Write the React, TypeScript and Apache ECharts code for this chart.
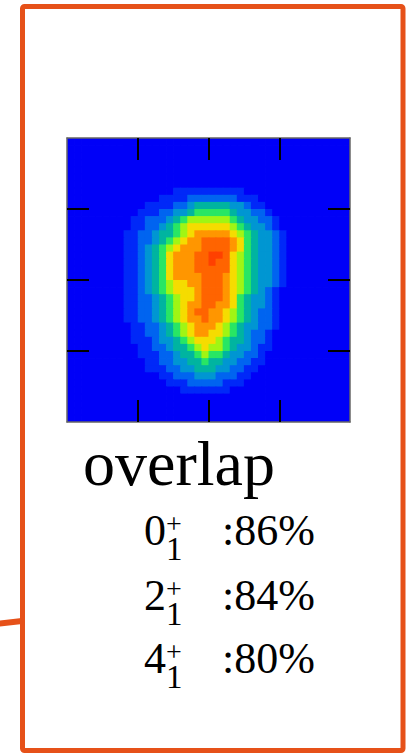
import React, { useEffect, useRef } from "react";
import * as echarts from "echarts";

// Intensity levels (0-a hex) of the 40x40 density map, top row first
const DENSITY_ROWS: string[] = [
  "0",
  "0",
  "0",
  "0",
  "0",
  "0",
  "0",
  "000000000000000" + "1111111111",
  "0000000000000" + "11112222222111",
  "00000000000" + "11112234444433211",
  "0000000000" + "1112233455555433221",
  "000000000" + "112223456666665433221",
  "000000000" + "112234567777776543321",
  "00000000" + "11223445678888876543321",
  "00000000" + "11223456788999987543321",
  "00000000" + "11234567888999987543321",
  "00000000" + "112345788899aa976543321",
  "00000000" + "112345788899a9976543321",
  "00000000" + "11234578889999976543321",
  "00000000" + "11234578888999876543321",
  "00000000" + "11234567788999876543321",
  "00000000" + "1123456777899987654321",
  "00000000" + "1122345677899987543321",
  "00000000" + "1122345678899887543321",
  "00000000" + "1122345678998876543221",
  "00000000" + "1122345678898876543221",
  "000000000" + "112234567888765433221",
  "000000000" + "11223456788776543221",
  "000000000" + "11123345677765443221",
  "0000000000" + "1122344567665433211",
  "0000000000" + "111223445655433221",
  "00000000000" + "11223344544332211",
  "00000000000" + "1112233444332211",
  "0000000000000" + "1122233322211",
  "00000000000000" + "11122222111",
  "0000000000000000" + "1111111",
  "0",
  "0",
  "0",
  "0",
];

const LEVEL_COLORS: string[] = [
  "#0000F8",
  "#0028F8",
  "#0064F0",
  "#0096D2",
  "#00B4A0",
  "#28E664",
  "#A0F514",
  "#F5DC00",
  "#FF9600",
  "#FF6400",
  "#FF4000",
];

const TITLE = "overlap";
const STATES: string[] = ["0", "2", "4"];
const OVERLAPS: string[] = ["86%", "84%", "80%"];
const TICK_VALUES: number[] = [1, 2, 3];

const GRID_N = 40;
const ORANGE = "#E65119";
const SERIF = "'Liberation Serif', 'Times New Roman', serif";

export default function App() {
  const ref = useRef<HTMLDivElement>(null);

  useEffect(() => {
    if (!ref.current) return;
    const chart = echarts.init(ref.current, null, { renderer: "svg" });

    const cats = Array.from({ length: GRID_N }, (_, i) => String(i));
    const data: number[][] = [];
    DENSITY_ROWS.forEach((row, r) => {
      const s = row.padEnd(GRID_N, "0");
      for (let c = 0; c < GRID_N; c++) data.push([c, r, parseInt(s[c], 16)]);
    });

    const gridRect = { left: 67, top: 138, width: 283, height: 284 };

    const tickAxis = (pos: string, gridIndex: number) => ({
      type: "value" as const,
      gridIndex,
      position: pos,
      min: 0,
      max: 4,
      interval: 1,
      z: 10,
      axisLine: { show: true, onZero: false, lineStyle: { color: "#666", width: 1.5 } },
      axisTick: {
        show: true,
        inside: true,
        length: 22,
        customValues: TICK_VALUES,
        lineStyle: { color: "#000", width: 2 },
      },
      axisLabel: { show: false },
      splitLine: { show: false },
    });

    const baselines = [545, 610, 673];
    const texts: any[] = [];
    STATES.forEach((st, i) => {
      const b = baselines[i];
      texts.push(
        {
          type: "text",
          style: { text: st, x: 144, y: b - 15, fill: "#000", font: `44px ${SERIF}`, verticalAlign: "middle" },
        },
        {
          type: "text",
          style: {
            text: "{p|+}\n{s|1}",
            x: 166,
            y: b - 7.5,
            verticalAlign: "middle",
            rich: {
              p: { fontFamily: SERIF, fontSize: 28, lineHeight: 22, fill: "#000" },
              s: { fontFamily: SERIF, fontSize: 33, lineHeight: 28, fill: "#000" },
            },
          },
        },
        {
          type: "text",
          style: { text: ":" + OVERLAPS[i], x: 222, y: b - 15, fill: "#000", font: `44px ${SERIF}`, verticalAlign: "middle" },
        }
      );
    });

    chart.setOption({
      animation: false,
      grid: [
        { ...gridRect, show: false },
        { ...gridRect, show: false },
      ],
      xAxis: [
        { type: "category", gridIndex: 0, data: cats, show: false },
        tickAxis("bottom", 1),
        tickAxis("top", 1),
      ],
      yAxis: [
        { type: "category", gridIndex: 0, data: cats, inverse: true, show: false },
        tickAxis("left", 1),
        tickAxis("right", 1),
      ],
      visualMap: {
        show: false,
        type: "continuous",
        min: 0,
        max: 10,
        dimension: 2,
        seriesIndex: 0,
        inRange: { color: LEVEL_COLORS },
      },
      series: [
        {
          type: "custom",
          xAxisIndex: 0,
          yAxisIndex: 0,
          clip: true,
          encode: { x: 0, y: 1 },
          data,
          renderItem: (params: any, api: any) => {
            const c = api.coord([api.value(0), api.value(1)]);
            const sz = api.size([1, 1]);
            const w = Math.abs(sz[0]);
            const h = Math.abs(sz[1]);
            return {
              type: "rect",
              shape: { x: c[0] - w / 2, y: c[1] - h / 2, width: w + 0.8, height: h + 0.8 },
              style: { fill: api.visual("color") },
            };
          },
        },
      ],
      graphic: [
        {
          type: "rect",
          z: 100,
          shape: { x: 22.5, y: 6.5, width: 380.5, height: 744, r: 2 },
          style: { fill: "none", stroke: ORANGE, lineWidth: 5 },
        },
        {
          type: "line",
          z: 100,
          shape: { x1: -4, y1: 624, x2: 22, y2: 621 },
          style: { stroke: ORANGE, lineWidth: 6 },
        },
        {
          type: "text",
          style: { text: TITLE, x: 83, y: 463, fill: "#000", font: `64px ${SERIF}`, verticalAlign: "middle" },
        },
        ...texts,
      ],
    });

    return () => chart.dispose();
  }, []);

  return (
    <div
      ref={ref}
      style={{ position: "fixed", left: 0, top: 0, width: 406, height: 753, background: "#fff" }}
    />
  );
}
